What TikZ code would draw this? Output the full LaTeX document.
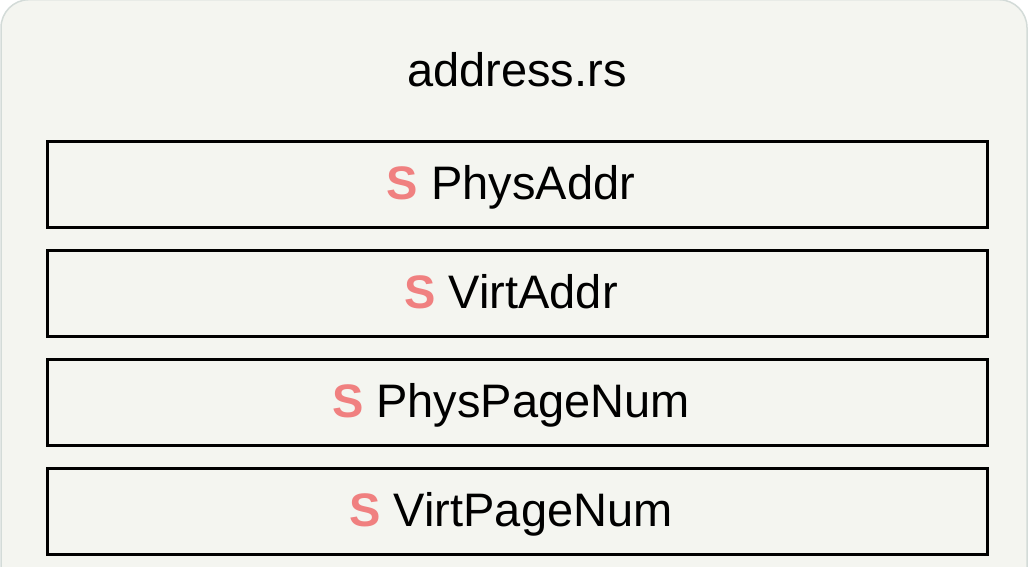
\documentclass[tikz,border=0pt]{standalone}
\usepackage{fontspec}
\setmainfont{Liberation Sans}
\definecolor{bgc}{HTML}{F4F5F0}
\definecolor{edgec}{HTML}{D3DBD8}
\definecolor{sred}{HTML}{F08080}
\begin{document}
\begin{tikzpicture}[x=1pt,y=-1pt,
  structbox/.style={draw=black,line width=3pt,fill=bgc,minimum width=940pt,minimum height=86pt,inner sep=0pt,anchor=center},
  lbl/.style={anchor=base,inner sep=0pt,font=\fontsize{47}{56}\selectfont}]
\useasboundingbox (0,0) rectangle (1028,566);
\fill[white] (0,0) rectangle (1028,566);
\begin{scope}
\clip (0,0) rectangle (1028,566);
\draw[edgec,fill=bgc,line width=1.5pt,rounded corners=28pt] (1,-0.3) rectangle (1027,640);
\end{scope}
\node[lbl] (title) at (517,86) {address.rs};
\node[structbox] (b1) at (517.5,184.5) {};
\node[structbox] (b2) at (517.5,293.5) {};
\node[structbox] (b3) at (517.5,402.5) {};
\node[structbox] (b4) at (517.5,511.5) {};
\node[lbl] (t1) at ([xshift=-6.5pt,yshift=-14.5pt]b1.center) {\textcolor{sred}{\textbf{S}} PhysAddr};
\node[lbl] (t2) at ([xshift=-6.5pt,yshift=-14.5pt]b2.center) {\textcolor{sred}{\textbf{S}} VirtAddr};
\node[lbl] (t3) at ([xshift=-6.5pt,yshift=-14.5pt]b3.center) {\textcolor{sred}{\textbf{S}} PhysPageNum};
\node[lbl] (t4) at ([xshift=-6.5pt,yshift=-14.5pt]b4.center) {\textcolor{sred}{\textbf{S}} VirtPageNum};
\end{tikzpicture}
\end{document}
